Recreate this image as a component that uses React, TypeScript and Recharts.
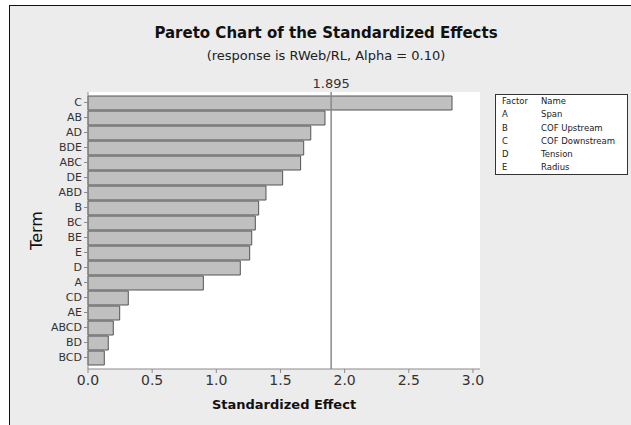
import { BarChart, Bar, XAxis, YAxis, CartesianGrid, ReferenceLine, Label } from 'recharts'

const terms = ['C', 'AB', 'AD', 'BDE', 'ABC', 'DE', 'ABD', 'B', 'BC', 'BE', 'E', 'D', 'A', 'CD', 'AE', 'ABCD', 'BD', 'BCD']
const effects = [2.837, 1.847, 1.736, 1.681, 1.657, 1.517, 1.387, 1.33, 1.304, 1.276, 1.26, 1.187, 0.899, 0.314, 0.247, 0.197, 0.158, 0.127]
const xTicks = [0, 0.5, 1, 1.5, 2, 2.5, 3]
const critical = 1.895

const factors = ['A', 'B', 'C', 'D', 'E']
const factorNames = ['Span', 'COF Upstream', 'COF Downstream', 'Tension', 'Radius']

const data = terms.map((term, i) => ({ term, effect: effects[i] }))

const font = 'Tahoma, "DejaVu Sans", "Noto Sans", sans-serif'
const axisColor = '#8a8a8a'

export default function App() {
  return (
    <div style={{ position: 'relative', width: 631, height: 425, background: '#fff', fontFamily: font, overflow: 'hidden' }}>
      <style>{'body{margin:0}'}</style>
      <div
        style={{
          position: 'absolute', left: 9, top: 5, width: 640, height: 440,
          background: '#ececec', borderLeft: '1px solid #111', borderTop: '1px solid #111',
        }}
      />
      <div style={{ position: 'absolute', left: 0, top: 0 }}>
        <BarChart
          width={631}
          height={425}
          data={data}
          layout="vertical"
          margin={{ top: 92, right: 151, bottom: 26, left: 0 }}
        >
          <CartesianGrid horizontal={false} vertical={false} fill="#fff" />
          <XAxis
            type="number"
            dataKey="effect"
            domain={[0, 3.055]}
            ticks={xTicks}
            tickFormatter={(v: number) => v.toFixed(1)}
            tick={{ fill: '#333', fontSize: 14, fontFamily: font }}
            tickSize={4}
            stroke={axisColor}
            height={30}
          >
            <Label value="Standardized Effect" position="insideBottom" offset={-10} fill="#111" fontSize={13} fontWeight="bold" fontFamily={font} />
          </XAxis>
          <XAxis xAxisId="t" type="number" orientation="top" domain={[0, 3.055]} tick={false} tickLine={false} stroke={axisColor} height={0} />
          <YAxis
            type="category"
            dataKey="term"
            width={88}
            padding={{ top: 3, bottom: 4 }}
            interval={0}
            tick={{ fill: '#333', fontSize: 11, fontFamily: font }}
            tickSize={4}
            stroke={axisColor}
          >
            <Label value="Term" angle={-90} position="insideLeft" offset={36} textAnchor="middle" fill="#111" fontSize={16} fontFamily={font} />
          </YAxis>
          <YAxis yAxisId="r" type="category" dataKey="term" orientation="right" tick={false} tickLine={false} stroke={axisColor} width={0} padding={{ top: 3, bottom: 4 }} />
          <Bar dataKey="effect" fill="#c0c0c0" stroke="#555" strokeWidth={1} barSize={14} isAnimationActive={false} />
          <ReferenceLine x={critical} stroke={axisColor} strokeWidth={1.5}>
            <Label value="1.895" position="top" offset={4} fill="#333" fontSize={13} fontFamily={font} />
          </ReferenceLine>
        </BarChart>
      </div>
      <div style={{ position: 'absolute', left: 0, width: 652, top: 24, textAlign: 'center', color: '#111' }}>
        <div style={{ fontSize: 15, fontWeight: 'bold', lineHeight: '19px' }}>Pareto Chart of the Standardized Effects</div>
        <div style={{ fontSize: 13, lineHeight: '20px', color: '#222', marginTop: 3 }}>(response is RWeb/RL, Alpha = 0.10)</div>
      </div>
      <div
        style={{
          position: 'absolute', left: 495, top: 94, width: 133, height: 81,
          background: '#fff', border: '1px solid #333', boxSizing: 'border-box',
          fontSize: 8.5, color: '#222', padding: '0 0 0 6px', lineHeight: '13.3px',
        }}
      >
        <div style={{ display: 'flex' }}>
          <span style={{ width: 39 }}>Factor</span>
          <span>Name</span>
        </div>
        {factors.map((f, i) => (
          <div key={f} style={{ display: 'flex' }}>
            <span style={{ width: 39 }}>{f}</span>
            <span>{factorNames[i]}</span>
          </div>
        ))}
      </div>
    </div>
  )
}
